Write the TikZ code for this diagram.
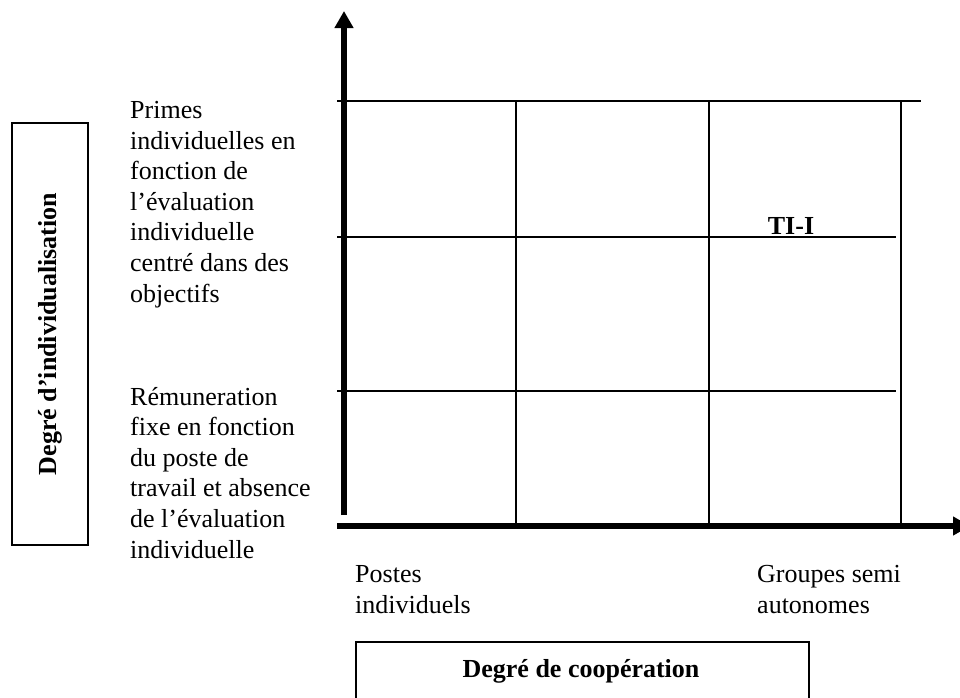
\documentclass[tikz,border=0pt]{standalone}
\usepackage{fontspec}
\setmainfont{Liberation Serif}
\usetikzlibrary{arrows.meta}
\tikzset{
  gridline/.style={line width=1.4pt},
  axisline/.style={line width=5.5pt,-{Triangle[length=17pt,width=18pt]}},
  txt/.style={inner sep=0pt,align=left,anchor=base west},
  boldtxt/.style={inner sep=0pt,font=\fontsize{26}{30.6}\selectfont\bfseries},
  framebox/.style={draw,line width=1.5pt}
}
\begin{document}
\begin{tikzpicture}[x=1pt,y=-1pt,font=\fontsize{26}{30.6}\selectfont]
\clip (0,0) rectangle (960,697);
% grid coordinates
\coordinate (h1l) at (337,101); \coordinate (h1r) at (921,101);
\coordinate (h2l) at (337,237); \coordinate (h2r) at (896,237);
\coordinate (h3l) at (337,391); \coordinate (h3r) at (896,391);
\coordinate (v1t) at (516,101); \coordinate (v1b) at (516,524);
\coordinate (v2t) at (709,101); \coordinate (v2b) at (709,524);
\coordinate (v3t) at (901,101); \coordinate (v3b) at (901,524);
\coordinate (yaxb) at (344,515); \coordinate (yaxt) at (344,11);
\coordinate (xaxl) at (337,526); \coordinate (xaxr) at (970,526);
\draw[gridline] (h1l) -- (h1r);
\draw[gridline] (h2l) -- (h2r);
\draw[gridline] (h3l) -- (h3r);
\draw[gridline] (v1t) -- (v1b);
\draw[gridline] (v2t) -- (v2b);
\draw[gridline] (v3t) -- (v3b);
\draw[axisline] (yaxb) -- (yaxt);
\draw[axisline,line width=6pt] (xaxl) -- (xaxr);
% labels
\node[boldtxt,anchor=base] (ti) at (791,234) {TI-I};
\node[txt] (up) at (130,302) {Primes\\individuelles en\\fonction de\\l’évaluation\\individuelle\\centré dans des\\objectifs};
\node[txt] (low) at (130,558) {Rémuneration\\fixe en fonction\\du poste de\\travail et absence\\de l’évaluation\\individuelle};
\node[txt] (postes) at (355,613) {Postes\\individuels};
\node[txt] (groupes) at (757,613) {Groupes semi\\autonomes};
% boxes
\node[framebox,minimum width=76pt,minimum height=422pt,inner sep=0pt] (ybox) at (50,334) {};
\node[boldtxt,rotate=90] (ylab) at (ybox.center) {Degré d’individualisation};
\node[framebox,minimum width=453pt,minimum height=80pt,inner sep=0pt,anchor=north west] (xbox) at (355,641) {};
\node[boldtxt,anchor=base] (xlab) at (581,677) {Degré de coopération};
\end{tikzpicture}
\end{document}
